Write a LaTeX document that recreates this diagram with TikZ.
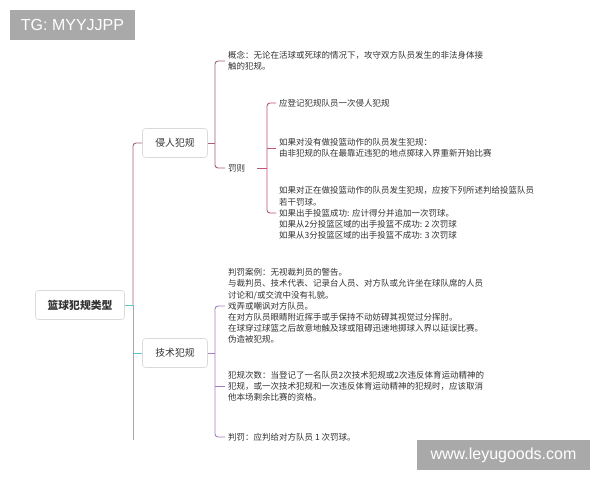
\documentclass[tikz,border=0pt]{standalone}
\usepackage{fontspec}
\setmainfont{Noto Sans CJK SC}
\newfontfamily\wmfont{Liberation Sans}
\definecolor{cone}{HTML}{A8607A}
\definecolor{ctwo}{HTML}{C0527E}
\definecolor{cthree}{HTML}{A67DC4}
\definecolor{cfour}{HTML}{5CC6CE}
\definecolor{txtc}{HTML}{333333}
\definecolor{boxc}{HTML}{DADADA}
\definecolor{wmgray}{HTML}{A9A9A9}
\begin{document}
\begin{tikzpicture}[x=1pt,y=-1pt,
  txt/.style={anchor=west, inner xsep=3pt, inner ysep=0pt, align=left, text=txtc, font=\fontsize{8.5}{11.2}\selectfont},
  mbox/.style={draw=boxc, fill=white, rounded corners=3pt, minimum width=65pt, minimum height=29pt, text=txtc, line width=0.6pt, font=\fontsize{9.8}{12}\selectfont},
  link/.style={line width=0.9pt, rounded corners=3pt},
  wm/.style={fill=wmgray, text=white, inner sep=0pt, font=\wmfont\fontsize{16}{18}\selectfont}]
\useasboundingbox (0,0) rectangle (600,480);
\fill[white] (0,0) rectangle (600,480);

\coordinate (s0) at (133,0);
\coordinate (s1) at (215,0);
\coordinate (s2) at (267,0);
\coordinate (cut) at (133,440);

\node[mbox, minimum width=89pt, minimum height=29pt, font=\bfseries\fontsize{10.8}{13}\selectfont] (root) at (80,305) {篮球犯规类型};
\node[mbox] (qr) at (175,143) {侵人犯规};
\node[mbox] (js) at (175,353) {技术犯规};

\node[txt] (gn) at (225,61) {概念：无论在活球或死球的情况下，攻守双方队员发生的非法身体接\\触的犯规。};
\node[txt] (fz) at (225,168) {罚则};
\node[txt] (b1) at (276,103) {应登记犯规队员一次侵人犯规};
\node[txt] (b2) at (276,148) {如果对没有做投篮动作的队员发生犯规：\\由非犯规的队在最靠近违犯的地点掷球入界重新开始比赛};
\node[txt] (b3) at (276,213) {如果对正在做投篮动作的队员发生犯规，应按下列所述判给投篮队员\\若干罚球。\\如果出手投篮成功: 应计得分并追加一次罚球。\\如果从2分投篮区域的出手投篮不成功: 2 次罚球\\如果从3分投篮区域的出手投篮不成功: 3 次罚球};

\node[txt] (ja) at (225,306) {判罚案例：无视裁判员的警告。\\与裁判员、技术代表、记录台人员、对方队或允许坐在球队席的人员\\讨论和/或交流中没有礼貌。\\戏弄或嘲讽对方队员。\\在对方队员眼睛附近挥手或手保持不动妨碍其视觉过分挥肘。\\在球穿过球篮之后故意地触及球或阻碍迅速地掷球入界以延误比赛。\\伪造被犯规。};
\node[txt] (jb) at (225,386) {犯规次数：当登记了一名队员2次技术犯规或2次违反体育运动精神的\\犯规，或一次技术犯规和一次违反体育运动精神的犯规时，应该取消\\他本场剩余比赛的资格。};
\node[txt] (jc) at (225,437) {判罚：应判给对方队员 1 次罚球。};

% root connectors
\draw[link, cone] (root.east -| s0) -- (qr.west -| s0) -- (qr.west);
\draw[link, cfour] (root.east) -- (root.east -| s0);
\draw[link, cfour] (root.east -| s0) -- (cut);
\draw[link, cfour] (js.west -| s0) -- (js.west);

% 侵人犯规 branch
\draw[link, cone] (qr.east) -- (qr.east -| s1);
\draw[link, cone] (gn.west) -- (gn.west -| s1) -- (fz.west -| s1) -- (fz.west);
\draw[link, ctwo] ([xshift=9pt]fz.east) -- (fz.east -| s2);
\draw[link, ctwo] (b1.west) -- (b1.west -| s2) -- (b3.west -| s2) -- (b3.west);
\draw[link, ctwo] (b2.west) -- (b2.west -| s2);

% 技术犯规 branch
\draw[link, cthree] (js.east) -- (js.east -| s1);
\draw[link, cthree] (ja.west) -- (ja.west -| s1) -- (jc.west -| s1) -- (jc.west);
\draw[link, cthree] (jb.west) -- (jb.west -| s1);

% watermarks
\node[wm, minimum width=125pt, minimum height=30pt] (tg) at (72.5,25) {TG: MYYJJPP};
\node[wm, minimum width=173pt, minimum height=30pt] (site) at (503.5,455) {www.leyugoods.com};
\end{tikzpicture}
\end{document}
